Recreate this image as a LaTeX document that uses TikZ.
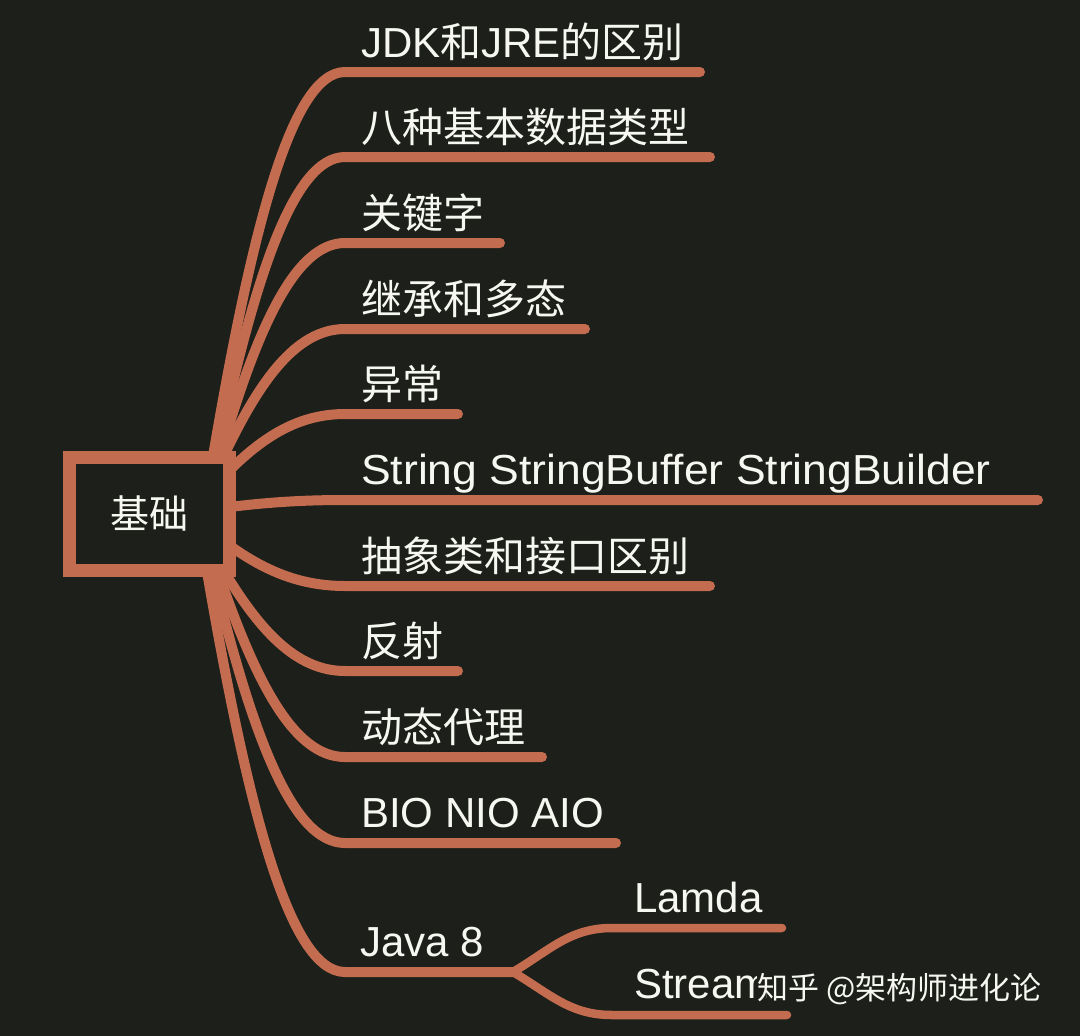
\documentclass[tikz,border=0pt]{standalone}
\usepackage{graphicx}
\usepackage{fontspec}
\setmainfont{Liberation Sans}
\newfontfamily\cjk[Scale=0.976]{Noto Sans CJK SC}
\newfontfamily\wmfont{Noto Sans CJK SC}
\definecolor{bgc}{HTML}{1C1F1A}
\definecolor{brc}{HTML}{C46C4F}
\definecolor{txc}{HTML}{F7F7F2}
\begin{document}
\begin{tikzpicture}[x=1pt,y=-1pt,
  branch/.style={draw=brc,line width=10pt,line cap=round,line join=round},
  subbranch/.style={draw=brc,line width=8.5pt,line cap=round,line join=round},
  lbl/.style={anchor=base west,inner sep=0pt,text=txc,font=\fontsize{42}{50}\selectfont},
  wmark/.style={anchor=base west,inner sep=0pt,font=\fontsize{31}{36}\selectfont\wmfont},
  rootbox/.style={draw=brc,fill=bgc,line width=13pt,minimum width=159.5pt,minimum height=113pt,inner sep=0pt,text=txc,font=\fontsize{40}{48}\selectfont\cjk}]
\fill[bgc] (0,0) rectangle (1080,1036);
\useasboundingbox (0,0) rectangle (1080,1036);

% branch start points (inside the root box) and horizontal rails
\coordinate (s1) at (212,462);  \coordinate (h1) at (345,72);   \coordinate (e1) at (700,72);
\coordinate (s2) at (215,462);  \coordinate (h2) at (345,157);  \coordinate (e2) at (710,157);
\coordinate (s3) at (218,462);  \coordinate (h3) at (345,243);  \coordinate (e3) at (500,243);
\coordinate (s4) at (221,462);  \coordinate (h4) at (345,329);  \coordinate (e4) at (585,329);
\coordinate (s5) at (222,478);  \coordinate (h5) at (345,414);  \coordinate (e5) at (458,414);
\coordinate (s6) at (222,508);  \coordinate (h6) at (345,500);  \coordinate (e6) at (1038,500);
\coordinate (s7) at (222,540);  \coordinate (h7) at (345,586);  \coordinate (e7) at (710,586);
\coordinate (s8) at (221,566);  \coordinate (h8) at (345,671);  \coordinate (e8) at (458,671);
\coordinate (s9) at (216,566);  \coordinate (h9) at (345,757);  \coordinate (e9) at (542,757);
\coordinate (s10) at (211,566); \coordinate (h10) at (345,843); \coordinate (e10) at (616,843);
\coordinate (s11) at (206,566); \coordinate (h11) at (345,972); \coordinate (fork) at (513,972);
\coordinate (hl) at (612,928);  \coordinate (el) at (782,928);
\coordinate (hs) at (612,1015); \coordinate (es) at (787,1015);

\draw[branch] (s1) .. controls (251.9,227.4) and (291.8,72) .. (h1) -- (e1);
\draw[branch] (s2) .. controls (254,279) and (293,157) .. (h2) -- (e2);
\draw[branch] (s3) .. controls (256.1,330.6) and (294.2,243) .. (h3) -- (e3);
\draw[branch] (s4) .. controls (258.2,382.2) and (295.4,329) .. (h4) -- (e4);
\draw[branch] (s5) .. controls (258.9,439.6) and (295.8,414) .. (h5) -- (e5);
\draw[branch] (s6) .. controls (258.9,503.2) and (295.8,500) .. (h6) -- (e6);
\draw[branch] (s7) .. controls (258.9,567.6) and (295.8,586) .. (h7) -- (e7);
\draw[branch] (s8) .. controls (258.2,629) and (295.4,671) .. (h8) -- (e8);
\draw[branch] (s9) .. controls (254.7,680.6) and (293.4,757) .. (h9) -- (e9);
\draw[branch] (s10) .. controls (251.2,732.2) and (291.4,843) .. (h10) -- (e10);
\draw[branch] (s11) .. controls (247.7,809.6) and (289.4,972) .. (h11) -- (fork);
\draw[subbranch] (fork) .. controls (550,950) and (570,928) .. (hl) -- (el);
\draw[subbranch] (fork) .. controls (550,994) and (570,1015) .. (hs) -- (es);

\node[rootbox] (root) at (149.25,513.5) {基础};

\node[lbl] (t1) at (361,57) {JDK{\cjk 和}JRE{\cjk 的区别}};
\node[lbl] (t2) at (361,142) {\cjk 八种基本数据类型};
\node[lbl] (t3) at (361,228) {\cjk 关键字};
\node[lbl] (t4) at (361,314) {\cjk 继承和多态};
\node[lbl] (t5) at (361,399) {\cjk 异常};
\node[lbl] (t6) at (361,484) {\scalebox{1.059}[1]{String StringBuffer StringBuilder}};
\node[lbl] (t7) at (361,571) {\cjk 抽象类和接口区别};
\node[lbl] (t8) at (361,656) {\cjk 反射};
\node[lbl] (t9) at (361,742) {\cjk 动态代理};
\node[lbl] (t10) at (361,827) {BIO NIO AIO};
\node[lbl] (t11) at (360,956) {Java 8};
\node[lbl] (t12) at (634,912) {Lamda};
\node[lbl] (t13) at (634,998) {Stream};

% watermark, laid over the end of "Stream" as in the reference
\fill[bgc] (757,969) rectangle (766,1003);
\node[wmark,text=txc] (wm) at (757,999) {知乎 @架构师进化论};
\end{tikzpicture}
\end{document}
